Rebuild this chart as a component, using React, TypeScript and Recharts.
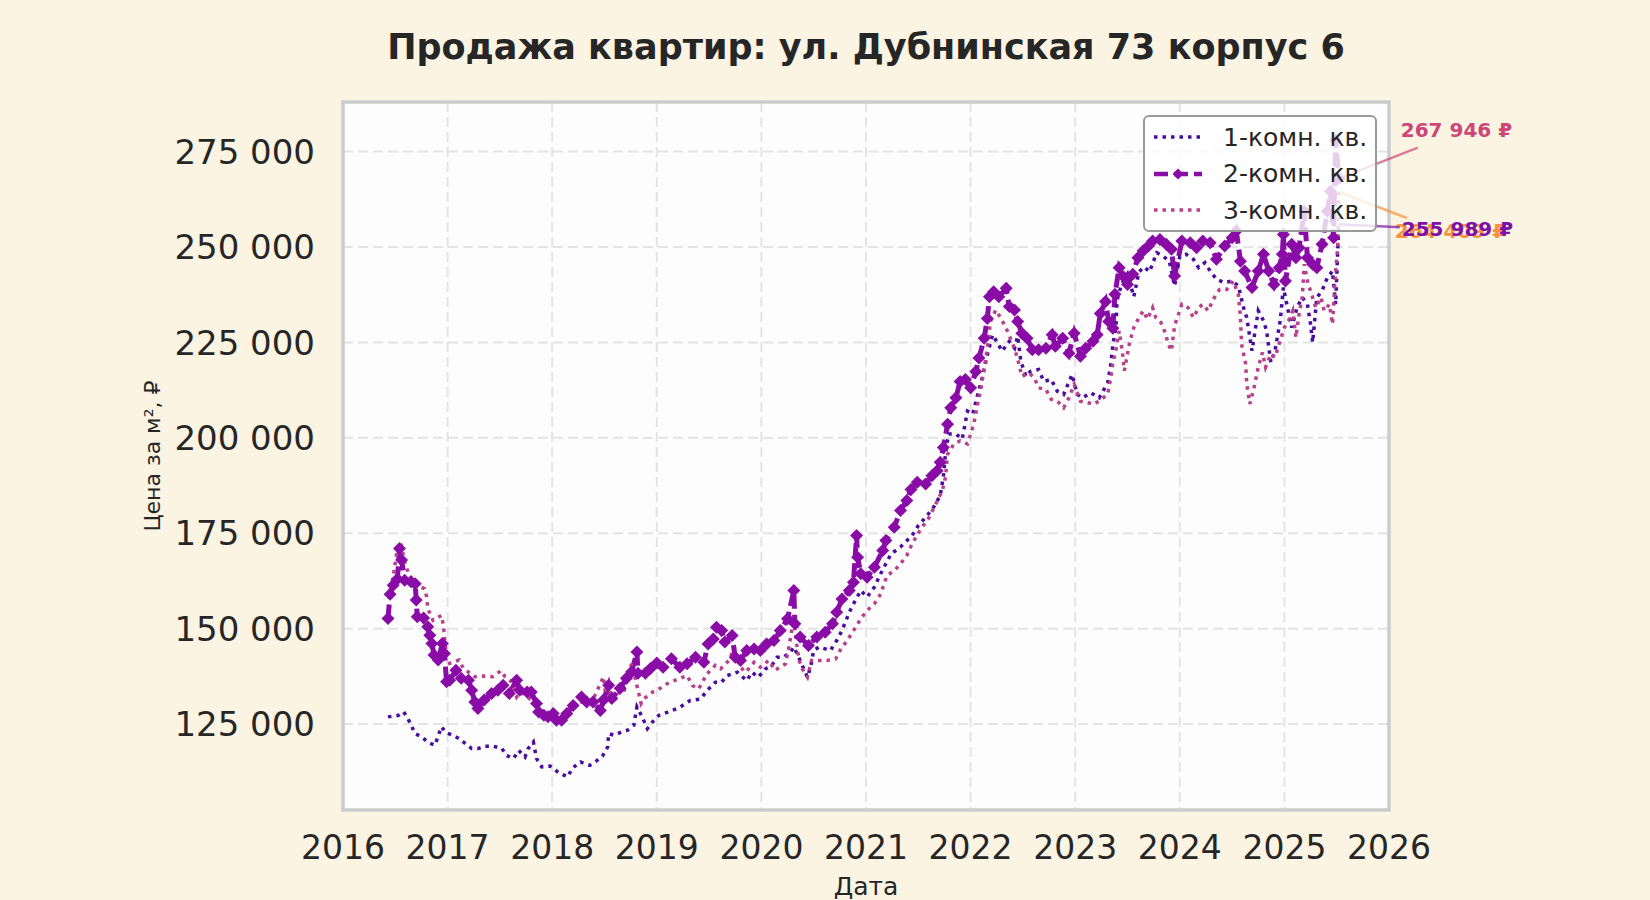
import React from 'react'
import {
  LineChart,
  Line,
  XAxis,
  YAxis,
  CartesianGrid,
  Legend,
  ReferenceArea,
  ReferenceDot,
} from 'recharts'

// Chart texts
const CHART_TITLE = 'Продажа квартир: ул. Дубнинская 73 корпус 6'
const X_LABEL = 'Дата'
const Y_LABEL = 'Цена за м², ₽'
const seriesNames = ['1-комн. кв.', '2-комн. кв.', '3-комн. кв.']

// Axis ticks
const yearTicks = [2016, 2017, 2018, 2019, 2020, 2021, 2022, 2023, 2024, 2025, 2026]
const priceTicks = [125000, 150000, 175000, 200000, 225000, 250000, 275000]

// 1-комн. кв. (дата в долях года, цена в тыс. ₽)
const oneRoomYears = [
  2016.43, 2016.53, 2016.58, 2016.62, 2016.69, 2016.75, 2016.82, 2016.88, 2016.94, 2016.99,
  2017.05, 2017.11, 2017.17, 2017.23, 2017.29, 2017.36, 2017.44, 2017.52, 2017.56, 2017.63,
  2017.68, 2017.74, 2017.77, 2017.82, 2017.85, 2017.9, 2017.98, 2018.07, 2018.15, 2018.19,
  2018.27, 2018.36, 2018.43, 2018.48, 2018.53, 2018.54, 2018.59, 2018.66, 2018.72, 2018.78,
  2018.81, 2018.86, 2018.91, 2018.96, 2019.02, 2019.1, 2019.22, 2019.32, 2019.42, 2019.48,
  2019.56, 2019.62, 2019.67, 2019.77, 2019.86, 2019.91, 2019.97, 2020.04, 2020.1, 2020.15,
  2020.21, 2020.28, 2020.31, 2020.37, 2020.44, 2020.47, 2020.5, 2020.55, 2020.61, 2020.66,
  2020.72, 2020.77, 2020.84, 2020.88, 2020.95, 2021.01, 2021.08, 2021.14, 2021.24, 2021.33,
  2021.44, 2021.5, 2021.58, 2021.65, 2021.71, 2021.74, 2021.76, 2021.79, 2021.86, 2021.92,
  2021.97, 2022.02, 2022.06, 2022.11, 2022.16, 2022.21, 2022.26, 2022.3, 2022.37, 2022.42,
  2022.45, 2022.48, 2022.53, 2022.57, 2022.65, 2022.7, 2022.77, 2022.83, 2022.89, 2022.97,
  2023.02, 2023.07, 2023.15, 2023.23, 2023.31, 2023.34, 2023.36, 2023.39, 2023.4, 2023.44,
  2023.5, 2023.56, 2023.61, 2023.66, 2023.71, 2023.78, 2023.84, 2023.9, 2023.95, 2024.0,
  2024.06, 2024.13, 2024.18, 2024.24, 2024.29, 2024.35, 2024.42, 2024.5, 2024.56, 2024.61,
  2024.64, 2024.67, 2024.69, 2024.75, 2024.8, 2024.83, 2024.87, 2024.91, 2024.96, 2024.99,
  2025.03, 2025.07, 2025.12, 2025.17, 2025.22, 2025.25, 2025.27, 2025.31, 2025.36, 2025.41,
  2025.46, 2025.49, 2025.52,
]
const oneRoomPrices = [
  126.9, 127.3, 128.2, 126.5, 122.5, 121.7, 120.1, 119.5, 124.3, 122.7,
  122.1, 121.2, 119.9, 118.6, 118.6, 119.2, 119.2, 118.6, 116.8, 116.0,
  118.1, 116.4, 118.6, 120.3, 116.0, 113.8, 114.0, 112.1, 111.2, 113.4,
  115.1, 114.2, 115.5, 116.6, 119.0, 122.5, 122.1, 122.9, 123.4, 124.7,
  129.5, 126.9, 123.8, 125.6, 127.3, 128.1, 129.4, 131.2, 131.6, 133.8,
  136.0, 136.0, 137.7, 138.6, 136.4, 138.6, 137.3, 139.5, 140.4, 142.5,
  142.5, 143.9, 145.2, 141.7, 137.3, 139.9, 144.3, 145.2, 144.7, 144.3,
  146.9, 149.5, 154.3, 156.5, 160.0, 158.3, 160.9, 164.4, 169.6, 171.4,
  174.4, 177.0, 179.5, 182.0, 184.9, 190.0, 196.0, 201.0, 201.0, 199.7,
  207.0, 206.2, 210.5, 215.7, 221.8, 227.0, 224.8, 222.7, 225.3, 223.5,
  226.6, 220.1, 216.1, 217.4, 217.9, 214.8, 215.3, 212.2, 211.4, 216.6,
  211.4, 210.5, 211.8, 210.5, 214.4, 219.2, 224.4, 229.0, 236.1, 240.0,
  242.9, 237.0, 243.5, 244.8, 243.5, 248.5, 247.6, 246.3, 239.8, 247.6,
  248.1, 246.8, 244.6, 245.9, 243.7, 241.6, 240.7, 241.1, 239.8, 234.1,
  231.5, 226.3, 222.8, 233.3, 230.7, 228.0, 219.8, 222.8, 230.7, 239.4,
  234.1, 228.9, 234.1, 236.8, 235.0, 229.8, 225.0, 236.8, 238.5, 242.0,
  243.7, 235.0, 255.989,
]

// 2-комн. кв.
const twoRoomYears = [
  2016.43, 2016.45, 2016.48, 2016.52, 2016.54, 2016.56, 2016.59, 2016.65, 2016.69, 2016.7,
  2016.71, 2016.77, 2016.81, 2016.83, 2016.85, 2016.87, 2016.91, 2016.95, 2016.97, 2016.99,
  2017.02, 2017.08, 2017.13, 2017.2, 2017.23, 2017.26, 2017.29, 2017.35, 2017.42, 2017.48,
  2017.53, 2017.59, 2017.66, 2017.69, 2017.76, 2017.8, 2017.85, 2017.87, 2017.92, 2017.96,
  2018.01, 2018.04, 2018.09, 2018.14, 2018.2, 2018.28, 2018.33, 2018.39, 2018.46, 2018.49,
  2018.54, 2018.57, 2018.65, 2018.71, 2018.76, 2018.81, 2018.82, 2018.89, 2018.94, 2019.0,
  2019.06, 2019.14, 2019.22, 2019.29, 2019.37, 2019.45, 2019.49, 2019.54, 2019.57, 2019.62,
  2019.65, 2019.72, 2019.75, 2019.8, 2019.86, 2019.93, 2019.99, 2020.05, 2020.12, 2020.18,
  2020.25, 2020.31, 2020.32, 2020.37, 2020.45, 2020.53, 2020.61, 2020.68, 2020.72, 2020.77,
  2020.84, 2020.88, 2020.91, 2020.92, 2020.95, 2021.01, 2021.08, 2021.16, 2021.19, 2021.27,
  2021.33, 2021.39, 2021.43, 2021.49, 2021.57, 2021.63, 2021.68, 2021.71, 2021.74, 2021.78,
  2021.81, 2021.86, 2021.9, 2021.95, 2022.0, 2022.05, 2022.08, 2022.13, 2022.16, 2022.18,
  2022.22, 2022.27, 2022.34, 2022.37, 2022.42, 2022.45, 2022.49, 2022.54, 2022.59, 2022.65,
  2022.72, 2022.78, 2022.81, 2022.88, 2022.94, 2022.99, 2023.05, 2023.1, 2023.17, 2023.21,
  2023.24, 2023.29, 2023.32, 2023.36, 2023.38, 2023.42, 2023.47, 2023.5, 2023.55, 2023.6,
  2023.65, 2023.7, 2023.74, 2023.81, 2023.87, 2023.92, 2023.95, 2024.02, 2024.1, 2024.16,
  2024.22, 2024.29, 2024.35, 2024.43, 2024.5, 2024.54, 2024.58, 2024.62, 2024.69, 2024.75,
  2024.8, 2024.85, 2024.9, 2024.95, 2024.98, 2024.99, 2025.01, 2025.07, 2025.11, 2025.14,
  2025.19, 2025.22, 2025.27, 2025.31, 2025.36, 2025.41, 2025.44, 2025.47, 2025.49, 2025.52,
]
const twoRoomPrices = [
  152.7, 159.0, 161.4, 163.0, 171.0, 168.0, 162.7, 162.3, 161.8, 157.5,
  153.1, 152.8, 150.5, 148.3, 146.1, 143.1, 141.8, 146.1, 143.5, 136.1,
  136.5, 139.1, 137.0, 136.5, 133.9, 130.8, 129.1, 131.3, 133.0, 133.9,
  135.2, 133.0, 136.5, 133.9, 133.4, 133.4, 130.4, 128.2, 127.3, 126.9,
  127.8, 126.0, 126.0, 127.8, 129.9, 132.1, 130.8, 130.8, 128.6, 131.3,
  135.2, 131.7, 134.4, 137.0, 138.7, 143.9, 138.3, 138.3, 139.6, 141.0,
  139.9, 142.1, 139.9, 140.8, 142.5, 141.2, 146.0, 147.3, 150.4, 149.5,
  146.5, 148.2, 142.5, 141.7, 144.3, 144.7, 144.3, 146.0, 146.9, 149.5,
  152.6, 160.0, 151.3, 147.8, 145.6, 147.8, 149.1, 151.3, 154.3, 157.8,
  160.0, 162.2, 174.4, 168.7, 164.4, 163.5, 166.1, 170.5, 173.1, 176.6,
  181.0, 183.6, 186.5, 188.4, 187.9, 190.1, 191.4, 193.6, 197.5, 203.6,
  207.9, 210.5, 214.8, 215.3, 213.1, 217.4, 220.9, 226.1, 231.3, 237.0,
  238.3, 237.0, 239.2, 234.4, 233.5, 230.5, 227.4, 226.1, 223.1, 223.1,
  223.5, 227.0, 224.0, 226.1, 222.2, 227.4, 221.4, 223.5, 225.3, 227.0,
  232.6, 235.7, 230.5, 228.7, 237.6, 244.6, 242.0, 240.2, 242.9, 247.2,
  249.0, 250.3, 251.6, 252.0, 250.7, 249.4, 242.4, 251.6, 251.1, 249.8,
  251.6, 251.1, 246.8, 250.3, 252.4, 254.2, 246.3, 243.7, 239.4, 243.7,
  248.1, 243.7, 240.2, 244.6, 248.1, 253.3, 241.1, 250.7, 247.2, 249.8,
  259.4, 247.2, 245.5, 244.6, 250.7, 259.4, 264.6, 252.4, 278.0, 267.946,
]

// 3-комн. кв.
const threeRoomYears = [
  2016.45, 2016.48, 2016.51, 2016.55, 2016.59, 2016.62, 2016.69, 2016.78, 2016.8, 2016.81,
  2016.86, 2016.94, 2016.96, 2016.97, 2016.99, 2017.02, 2017.11, 2017.15, 2017.26, 2017.34,
  2017.43, 2017.51, 2017.55, 2017.61, 2017.66, 2017.7, 2017.8, 2017.88, 2017.96, 2018.05,
  2018.16, 2018.25, 2018.38, 2018.49, 2018.51, 2018.6, 2018.68, 2018.76, 2018.85, 2018.88,
  2018.96, 2019.0, 2019.1, 2019.21, 2019.29, 2019.34, 2019.4, 2019.48, 2019.56, 2019.61,
  2019.69, 2019.73, 2019.8, 2019.85, 2019.93, 2019.99, 2020.07, 2020.13, 2020.23, 2020.26,
  2020.31, 2020.33, 2020.36, 2020.39, 2020.44, 2020.48, 2020.56, 2020.63, 2020.71, 2020.76,
  2020.82, 2020.88, 2020.95, 2021.01, 2021.08, 2021.14, 2021.2, 2021.27, 2021.33, 2021.39,
  2021.44, 2021.52, 2021.6, 2021.66, 2021.73, 2021.76, 2021.78, 2021.84, 2021.9, 2021.97,
  2022.03, 2022.06, 2022.1, 2022.13, 2022.16, 2022.19, 2022.24, 2022.29, 2022.34, 2022.38,
  2022.42, 2022.46, 2022.49, 2022.56, 2022.61, 2022.65, 2022.72, 2022.77, 2022.83, 2022.89,
  2022.94, 2022.99, 2023.02, 2023.05, 2023.12, 2023.18, 2023.25, 2023.31, 2023.34, 2023.36,
  2023.39, 2023.42, 2023.45, 2023.47, 2023.52, 2023.56, 2023.61, 2023.65, 2023.69, 2023.74,
  2023.77, 2023.82, 2023.86, 2023.89, 2023.92, 2023.95, 2024.02, 2024.08, 2024.13, 2024.18,
  2024.22, 2024.27, 2024.32, 2024.38, 2024.45, 2024.51, 2024.56, 2024.58, 2024.59, 2024.63,
  2024.64, 2024.67, 2024.71, 2024.75, 2024.79, 2024.82, 2024.87, 2024.91, 2024.95, 2024.98,
  2025.0, 2025.04, 2025.08, 2025.11, 2025.14, 2025.17, 2025.19, 2025.22, 2025.25, 2025.3,
  2025.35, 2025.38, 2025.43, 2025.46, 2025.49, 2025.51, 2025.52,
]
const threeRoomPrices = [
  160.1, 163.6, 169.3, 172.7, 167.5, 164.9, 161.4, 160.5, 158.3, 155.3,
  152.2, 153.5, 150.9, 147.9, 142.6, 140.9, 141.8, 139.6, 137.4, 137.6,
  137.4, 139.0, 137.4, 136.1, 132.1, 133.4, 131.3, 128.6, 126.9, 126.0,
  129.1, 130.8, 130.8, 137.4, 133.0, 133.4, 133.0, 140.9, 130.4, 131.7,
  133.4, 133.8, 135.6, 136.9, 137.7, 135.1, 134.2, 138.2, 140.4, 139.5,
  141.7, 144.3, 139.9, 138.6, 141.2, 139.9, 141.7, 139.1, 140.8, 144.7,
  153.0, 147.3, 141.7, 139.5, 137.3, 141.7, 141.7, 141.7, 142.1, 144.7,
  146.9, 149.5, 152.6, 154.8, 156.5, 159.1, 163.9, 165.2, 167.0, 169.2,
  172.2, 176.0, 179.0, 182.3, 186.2, 189.7, 195.7, 198.4, 199.2, 198.4,
  203.6, 207.9, 213.1, 218.3, 223.5, 230.5, 233.5, 231.3, 228.7, 226.1,
  223.5, 219.6, 216.1, 217.0, 215.7, 213.1, 212.7, 210.1, 209.6, 207.9,
  210.5, 214.0, 211.8, 209.6, 209.2, 208.8, 210.1, 211.4, 215.7, 219.6,
  223.1, 228.0, 222.8, 217.6, 225.0, 228.9, 231.5, 233.3, 231.1, 234.1,
  231.5, 230.2, 227.6, 224.6, 222.8, 229.4, 235.0, 234.1, 231.5, 234.1,
  235.0, 233.3, 236.3, 238.9, 238.9, 241.1, 237.6, 231.5, 224.6, 219.3,
  214.1, 208.9, 213.2, 218.5, 222.4, 218.5, 222.0, 221.1, 224.6, 227.2,
  228.9, 230.7, 233.3, 226.3, 232.4, 236.8, 245.5, 241.1, 238.5, 234.1,
  236.8, 233.3, 235.0, 229.8, 243.7, 249.8, 264.409,
]

// Look
const PAGE_BG = '#fbf4e3'
const PLOT_BG = '#fdfdfd'
const TEXT_COLOR = '#262626'
const ONE_ROOM_COLOR = '#4a0c9e'
const TWO_ROOM_COLOR = '#8a0ca6'
const THREE_ROOM_COLOR = '#b8418b'
const Y_DOMAIN = [102500, 288000]
const X_DOMAIN = [2016, 2026]

const toRows = (years: number[], prices: number[]) =>
  years.map((year, i) => ({ year, price: prices[i] * 1000 }))

const oneRoomData = toRows(oneRoomYears, oneRoomPrices)
const twoRoomData = toRows(twoRoomYears, twoRoomPrices)
const threeRoomData = toRows(threeRoomYears, threeRoomPrices)

const formatThousands = (v: number) =>
  Math.round(v).toString().replace(/\B(?=(\d{3})+(?!\d))/g, ' ')

/**
 * Diamond marker for the 2-room series
 */
const renderDiamond = (props: any) => {
  const { cx, cy, index } = props
  if (cx == null || cy == null) return <g key={`dm-${index}`} />
  const s = 6.5
  return (
    <path
      key={`dm-${index}`}
      d={`M${cx} ${cy - s}L${cx + s} ${cy}L${cx} ${cy + s}L${cx - s} ${cy}Z`}
      fill={TWO_ROOM_COLOR}
    />
  )
}

/**
 * Last value callout: text placed off the plot, thin line back to the point
 */
const makeCallout =
  (text: string, color: string, textDx: number, textDy: number, tailDx: number, tailDy: number) =>
  (props: any) => {
    const { cx, cy } = props
    return (
      <g>
        <line
          x1={cx + tailDx}
          y1={cy + tailDy}
          x2={cx}
          y2={cy}
          stroke={color}
          strokeOpacity={0.7}
          strokeWidth={2.5}
        />
        <text x={cx + textDx} y={cy + textDy} fill={color} fontSize={20} fontWeight="bold">
          {text}
        </text>
      </g>
    )
  }

const legendItems = [
  { name: seriesNames[0], color: ONE_ROOM_COLOR, dash: '3.5 5', width: 3.5, marker: false },
  { name: seriesNames[1], color: TWO_ROOM_COLOR, dash: '14 6', width: 4.5, marker: true },
  { name: seriesNames[2], color: THREE_ROOM_COLOR, dash: '3.5 5', width: 3.5, marker: false },
]

const renderLegend = () => (
  <div
    style={{
      boxSizing: 'border-box',
      width: 234,
      height: 117,
      padding: '2px 0 0 9px',
      background: 'rgba(255,255,255,0.8)',
      border: '2px solid #999999',
      borderRadius: 6,
    }}
  >
    {legendItems.map((item) => (
      <div key={item.name} style={{ display: 'flex', alignItems: 'center', height: 36.5 }}>
        <svg width={48} height={20} style={{ marginRight: 21 }}>
          <line
            x1={0}
            y1={10}
            x2={48}
            y2={10}
            stroke={item.color}
            strokeWidth={item.width}
            strokeDasharray={item.dash}
          />
          {item.marker && <path d="M24 4.5L29.5 10L24 15.5L18.5 10Z" fill={item.color} />}
        </svg>
        <span style={{ fontSize: 25, color: TEXT_COLOR, lineHeight: 1 }}>{item.name}</span>
      </div>
    ))}
  </div>
)

export default function App() {
  return (
    <div
      style={{
        position: 'absolute',
        left: 0,
        top: 0,
        width: 1650,
        height: 900,
        background: PAGE_BG,
        fontFamily: '"DejaVu Sans", sans-serif',
        overflow: 'hidden',
      }}
    >
      {/* Title */}
      <div
        style={{
          position: 'absolute',
          left: 343,
          width: 1046,
          top: 28,
          textAlign: 'center',
          fontSize: 35,
          fontWeight: 'bold',
          color: TEXT_COLOR,
          lineHeight: '38px',
          zIndex: 2,
        }}
      >
        {CHART_TITLE}
      </div>

      <LineChart
        width={1650}
        height={900}
        margin={{ top: 102, right: 261, bottom: 10, left: 0 }}
      >
        <CartesianGrid
          fill={PLOT_BG}
          stroke="#e4e4e4"
          strokeWidth={2}
          strokeDasharray="10 5"
        />
        <XAxis
          dataKey="year"
          type="number"
          domain={X_DOMAIN}
          ticks={yearTicks}
          interval={0}
          height={80}
          tickSize={0}
          tickMargin={26}
          axisLine={false}
          tickLine={false}
          tick={{ fontSize: 33, fill: TEXT_COLOR }}
          label={(p: any) => {
            const vb = p.viewBox
            return (
              <text x={vb.x + vb.width / 2} y={895} textAnchor="middle" fontSize={25} fill={TEXT_COLOR}>
                {X_LABEL}
              </text>
            )
          }}
        />
        <YAxis
          type="number"
          domain={Y_DOMAIN}
          ticks={priceTicks}
          width={343}
          tickSize={0}
          tickMargin={28}
          axisLine={false}
          tickLine={false}
          tickFormatter={formatThousands}
          tick={{ fontSize: 34, fill: TEXT_COLOR }}
          label={(p: any) => {
            const vb = p.viewBox
            const cy = vb.y + vb.height / 2
            return (
              <text
                x={152}
                y={cy}
                transform={`rotate(-90, 152, ${cy})`}
                textAnchor="middle"
                dominantBaseline="central"
                fontSize={22}
                fill={TEXT_COLOR}
              >
                {Y_LABEL}
              </text>
            )
          }}
        />

        {/* Axes frame */}
        <ReferenceArea
          x1={X_DOMAIN[0]}
          x2={X_DOMAIN[1]}
          y1={Y_DOMAIN[0]}
          y2={Y_DOMAIN[1]}
          fill="none"
          stroke="#cccccc"
          strokeWidth={3.5}
        />

        <Line
          data={twoRoomData}
          dataKey="price"
          name={seriesNames[1]}
          stroke={TWO_ROOM_COLOR}
          strokeWidth={5}
          strokeDasharray="14 6"
          dot={renderDiamond}
          activeDot={false}
          isAnimationActive={false}
        />
        <Line
          data={oneRoomData}
          dataKey="price"
          name={seriesNames[0]}
          stroke={ONE_ROOM_COLOR}
          strokeWidth={3.5}
          strokeDasharray="3.5 5"
          dot={false}
          activeDot={false}
          isAnimationActive={false}
        />
        <Line
          data={threeRoomData}
          dataKey="price"
          name={seriesNames[2]}
          stroke={THREE_ROOM_COLOR}
          strokeWidth={3.5}
          strokeDasharray="3.5 5"
          dot={false}
          activeDot={false}
          isAnimationActive={false}
        />

        {/* Last-value callouts */}
        <ReferenceDot
          x={twoRoomYears[twoRoomYears.length - 1]}
          y={twoRoomPrices[twoRoomPrices.length - 1] * 1000}
          shape={makeCallout(
            `${formatThousands(twoRoomPrices[twoRoomPrices.length - 1] * 1000)} ₽`,
            '#cc4778', 62, -42, 79, -31,
          )}
        />
        <ReferenceDot
          x={threeRoomYears[threeRoomYears.length - 1]}
          y={threeRoomPrices[threeRoomPrices.length - 1] * 1000}
          shape={makeCallout(
            `${formatThousands(threeRoomPrices[threeRoomPrices.length - 1] * 1000)} ₽`,
            '#f7923f', 56, 46, 68, 26,
          )}
        />
        <ReferenceDot
          x={oneRoomYears[oneRoomYears.length - 1]}
          y={oneRoomPrices[oneRoomPrices.length - 1] * 1000}
          shape={makeCallout(
            `${formatThousands(oneRoomPrices[oneRoomPrices.length - 1] * 1000)} ₽`,
            '#7e12a6', 63, 12, 61, 3,
          )}
        />

        <Legend
          layout="vertical"
          align="center"
          verticalAlign="middle"
          wrapperStyle={{ left: 1143, top: 115, width: 234, height: 117 }}
          content={renderLegend}
        />
      </LineChart>
    </div>
  )
}
